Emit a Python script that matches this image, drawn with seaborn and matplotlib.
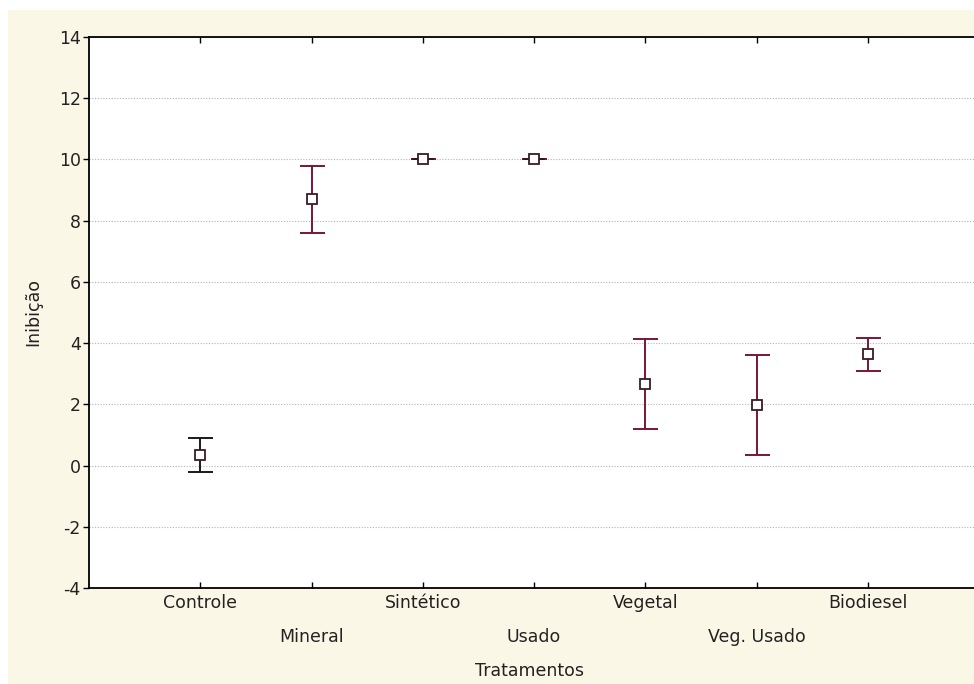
import matplotlib
matplotlib.use("Agg")
import matplotlib.pyplot as plt
from matplotlib.patches import Rectangle
import seaborn as sns
import pandas as pd

# Mean inhibition per treatment and half-width of its interval
tratamentos = ["Controle", "Mineral", "Sintético", "Usado", "Vegetal", "Veg. Usado", "Biodiesel"]
media = [0.35, 8.70, 10.00, 10.00, 2.67, 1.97, 3.63]
erro = [0.55, 1.10, 0.0, 0.0, 1.47, 1.63, 0.54]
cor_barra = ["#1a1a1a", "#7a1538", "#7a1538", "#7a1538", "#7a1538", "#7a1538", "#7a1538"]
y_ticks = [-4, -2, 0, 2, 4, 6, 8, 10, 12, 14]

df = pd.DataFrame({"Tratamentos": tratamentos, "Inibição": media})

sns.set_theme(style="white")
plt.rcParams["font.family"] = ["DejaVu Sans"]

fig = plt.figure(figsize=(9.74, 6.84), dpi=100, facecolor="white")
fig.patches.append(Rectangle((8 / 974, 0), 1, 1 - 10 / 684, transform=fig.transFigure,
                             facecolor="#fbf7e7", edgecolor="none", zorder=-10))
ax = fig.add_axes([89 / 974, 1 - 588 / 684, 890 / 974, 551 / 684])
ax.set_facecolor("white")

# error bars, one colour per treatment
for i, (m, e, c) in enumerate(zip(media, erro, cor_barra)):
    ax.errorbar(i, m, yerr=e, fmt="none", ecolor=c, elinewidth=1.4,
                capsize=9, capthick=1.4, zorder=3)
    if e == 0:
        ax.plot([i - 0.09, i + 0.09], [m, m], color="#2a1a1f", lw=1.4, zorder=3)

sns.pointplot(data=df, x="Tratamentos", y="Inibição", order=tratamentos,
              errorbar=None, linestyle="none", markers="s", color="white",
              markersize=6.5, markeredgewidth=1.3, ax=ax)
for ln in ax.lines:
    if ln.get_marker() == "s":
        ln.set_markeredgecolor("#3a1a24")
        ln.set_markerfacecolor("white")
        ln.set_zorder(6)

ax.set_xlim(-1, 7)
ax.set_ylim(-4, 14)
ax.set_yticks(y_ticks)
ax.set_yticklabels([str(v) for v in y_ticks])
ax.yaxis.grid(True, linestyle=(0, (1, 1.5)), color="#b5b5b5", lw=0.8)
ax.xaxis.grid(False)
ax.set_axisbelow(True)

for side in ["left", "bottom", "top"]:
    ax.spines[side].set_visible(True)
    ax.spines[side].set_color("black")
    ax.spines[side].set_linewidth(1.3)
ax.spines["right"].set_visible(False)

ax.tick_params(axis="x", direction="in", length=4, width=1, top=True, bottom=True,
               labelsize=12.5, colors="black", labelcolor="#222222")
ax.tick_params(axis="y", direction="out", length=4, width=1, left=True,
               labelsize=12.5, colors="black", labelcolor="#222222", pad=2)
for i, t in enumerate(ax.xaxis.get_major_ticks()):
    t.set_pad(4 if i % 2 == 0 else 29)

ax.set_xlabel("Tratamentos", fontsize=12.5, color="#222222")
ax.set_ylabel("Inibição", fontsize=12.5, color="#222222")
ax.xaxis.set_label_coords(0.4955, -0.134)
ax.yaxis.set_label_coords(-0.053, 0.5)

fig.savefig("out.png", dpi=100, facecolor=fig.get_facecolor())
